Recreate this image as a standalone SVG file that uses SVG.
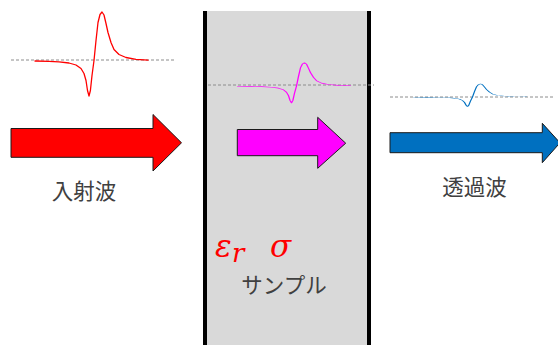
<svg xmlns="http://www.w3.org/2000/svg" xmlns:xlink="http://www.w3.org/1999/xlink" width="558" height="345" viewBox="0 0 558 345">
<style>
.base{stroke:#8c8c8c;stroke-width:1;stroke-dasharray:3 2;fill:none}
.wave{fill:none;stroke-width:1.3;stroke-linejoin:round;stroke-linecap:round;vector-effect:non-scaling-stroke}
.arrow{stroke:#1a1a1a;stroke-width:1}
.lbl{font-family:"Noto Sans CJK JP","Noto Sans",sans-serif;font-size:21.5px;fill:#404040;text-anchor:middle}
.math{font-family:"DejaVu Serif","Liberation Serif",serif;font-style:italic;fill:#ff0000}
</style>
<defs>
<polyline id="pulse" points="-59,0.5 -45,0.8 -35,1.3 -25,2.5 -18,4.5 -13,8 -10,13 -8,20 -6.5,30 -5,35.5 -3.6,30 -2,15 0,0 2,-20 4,-38 6,-46 8,-48.5 10,-45.5 12,-37 14,-28 17,-18 20,-11 25,-6 32,-3 42,-1.2 54,-0.4"/>
</defs>
<g id="sample">
<rect x="205" y="11" width="164" height="334" fill="#d9d9d9"/>
<line x1="205" y1="11" x2="205" y2="345" stroke="#000" stroke-width="4"/>
<line x1="369" y1="11" x2="369" y2="345" stroke="#000" stroke-width="4"/>
<text class="lbl" x="284" y="293">サンプル</text>
<text class="math" x="215" y="257" font-size="31">ε</text>
<text class="math" x="232" y="262" font-size="26">r</text>
<text class="math" x="270" y="257" font-size="31">σ</text>
</g>
<g id="incident">
<line class="base" x1="11" y1="60" x2="176" y2="60"/>
<use xlink:href="#pulse" class="wave" stroke="#ff0000" transform="translate(94,60.5)"/>
<polygon class="arrow" fill="#ff0000" points="11,128.5 153,128.5 153,114.5 181.5,142.8 153,171 153,157.3 11,157.3"/>
<text class="lbl" x="84" y="199">入射波</text>
</g>
<g id="inside">
<line class="base" x1="208" y1="85" x2="374" y2="85"/>
<use xlink:href="#pulse" class="wave" stroke="#ff00ff" transform="translate(296.5,86) scale(1,0.48)"/>
<polygon class="arrow" fill="#ff00ff" points="237.3,129.5 317.7,129.5 317.7,117.3 345.7,143.2 317.7,168.3 317.7,155.7 237.3,155.7"/>
</g>
<g id="transmitted">
<line class="base" x1="390" y1="97" x2="555" y2="97"/>
<use xlink:href="#pulse" class="wave" stroke="#0070c0" transform="translate(472.5,97) scale(1,0.27)"/>
<polygon class="arrow" fill="#0070c0" points="390,132.7 542.3,132.7 542.3,123.3 560,142.8 542.3,162.7 542.3,152.7 390,152.7"/>
<text class="lbl" x="474.5" y="195">透過波</text>
</g>
</svg>
